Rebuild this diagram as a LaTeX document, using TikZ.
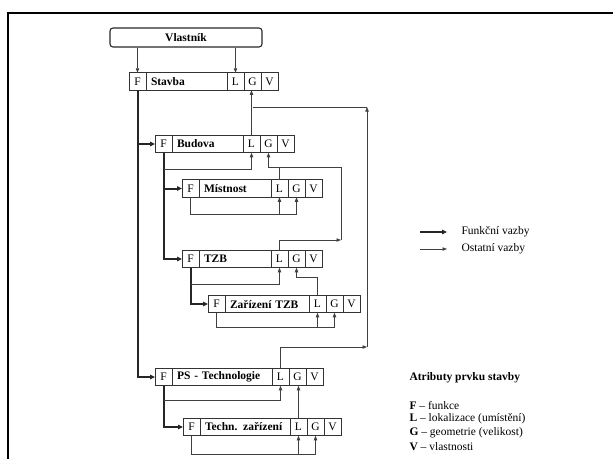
\documentclass[tikz,border=0pt]{standalone}
\usepackage{fontspec}
\setmainfont{Liberation Serif}
\usepackage{tikz}
\usetikzlibrary{positioning}
\usepgflibrary{arrows.meta}

\newcommand{\pismo}{\fontsize{11.5}{14}\selectfont}

\tikzset{
  bunka/.style={draw=black!80,line width=.8pt,minimum width=17pt,minimum height=17.5pt,inner sep=0pt,outer sep=0pt,font=\pismo},
  nazev/.style={bunka,font=\pismo\bfseries,inner xsep=5pt,align=left},
  fun/.style={black!85,line width=2pt,-{Triangle[length=5pt,width=4.5pt]}},
  ost/.style={black!75,line width=.75pt},
  hrot/.style={-{Triangle[length=4.5pt,width=3.4pt]}},
}

% jeden prvek stavby: F | nazev | L | G | V
\newcommand{\prvek}[5]{%
  \node[bunka,anchor=west] (#1-F) at (#2,#3) {F};
  \node[nazev,text width=#4pt,right=0pt of #1-F] (#1-N) {#5};
  \node[bunka,right=0pt of #1-N] (#1-L) {L};
  \node[bunka,right=0pt of #1-L] (#1-G) {G};
  \node[bunka,right=0pt of #1-G] (#1-V) {V};
}

\begin{document}
\begin{tikzpicture}[x=1pt,y=-1pt,font=\pismo]
      \useasboundingbox (0,0) rectangle (613,459);
      \draw[line width=2.4pt] (8,459) -- (8,13) -- (613,13);

      \node[draw=black!85,line width=1.1pt,rounded corners=3pt,minimum width=152pt,minimum height=19pt,inner sep=0pt,font=\pismo\bfseries] (vlastnik) at (186,37.5) {Vlastník};

      \prvek{st}{129}{81.5}{71}{Stavba}
      \prvek{bu}{155}{144}{61}{Budova}
      \prvek{mi}{182}{188.5}{62}{Místnost}
      \prvek{tzb}{182}{259}{62}{TZB}
      \prvek{za}{208}{304}{74}{Zařízení TZB}
      \prvek{ps}{155}{377}{90}{PS - Technologie}
      \prvek{te}{183}{427}{80}{Techn. zařízení}

      \coordinate (b1h) at (367,107);
      \coordinate (b1d) at (367,347);
      \coordinate (b2h) at (341,167);
      \coordinate (b2d) at (341,240);

      % funkcni vazby
      \draw[fun] (st-F.south) |- (ps-F.west);
      \draw[fun] (st-F.south |- bu-F.west) -- (bu-F.west);
      \draw[fun] (bu-F.south) |- (tzb-F.west);
      \draw[fun] (bu-F.south |- mi-F.west) -- (mi-F.west);
      \draw[fun] (tzb-F.south) |- (za-F.west);
      \draw[fun] (ps-F.south) |- (te-F.west);

      % ostatni vazby
      \draw[ost,hrot] (vlastnik.south -| st-F.north) -- (st-F.north);
      \draw[ost,hrot] (vlastnik.south -| st-L.north) -- (st-L.north);
      \draw[ost,hrot] (bu-L.north) -- (bu-L.north |- st-G.south);
      \draw[ost] (st-G.south |- b1h) -- (b1h);
      \draw[ost,hrot] (ps-L.north) |- (b1d);
      \draw[ost,hrot] (b1d) -- (b1h);
      \draw[ost,hrot] (b2d) -- (b2h) -| (bu-G.south);
      \draw[ost,hrot] (tzb-L.north) |- (b2d);
      \draw[ost] (mi-L.north) -- (mi-L.north |- b2h);
      \draw[ost,hrot] (za-L.north) -- ++(0,-18) -| (tzb-G.south);
      \draw[ost,hrot] (te-L.north) -- (te-L.north |- ps-G.south);

      \draw[ost,hrot] (bu-F.south) ++(0,17) -| (bu-L.south);
      \draw[ost,hrot] (mi-F.south) -- ++(0,17) coordinate (mi-s) -| (mi-G.south);
      \draw[ost,hrot] (mi-s -| mi-L.south) -- (mi-L.south);
      \draw[ost,hrot] (tzb-F.south) ++(0,17) -| (tzb-L.south);
      \draw[ost,hrot] (za-F.south) -- ++(0,15) coordinate (za-s) -| (za-G.south);
      \draw[ost,hrot] (za-s -| za-L.south) -- (za-L.south);
      \draw[ost,hrot] (ps-F.south) ++(0,15) -| (ps-L.south);
      \draw[ost,hrot] (te-F.south) -- ++(0,19) coordinate (te-s) -| (te-G.south);
      \draw[ost,hrot] (te-s -| te-L.south) -- (te-L.south);

      % legenda
      \node[anchor=west] (lgF) at (458,232) {Funkční vazby};
      \node[anchor=west] (lgO) at (458,249) {Ostatní vazby};
      \coordinate (lgA) at (420,232);
      \coordinate (lgB) at (420,249);
      \draw[fun] (lgA) -- ([xshift=-11pt]lgF.west);
      \draw[ost,hrot] (lgB) -- ([xshift=-11pt]lgO.west);

      \node[anchor=west,font=\pismo\bfseries] (atr) at (406,378) {Atributy prvku stavby};
      \foreach \p/\t [count=\i] in {F/funkce,L/lokalizace (umístění),G/geometrie (velikost),V/vlastnosti}
        \node[anchor=west] (atr\p) at (406,391+14*\i) {\textbf{\p} -- \t};
\end{tikzpicture}
\end{document}
